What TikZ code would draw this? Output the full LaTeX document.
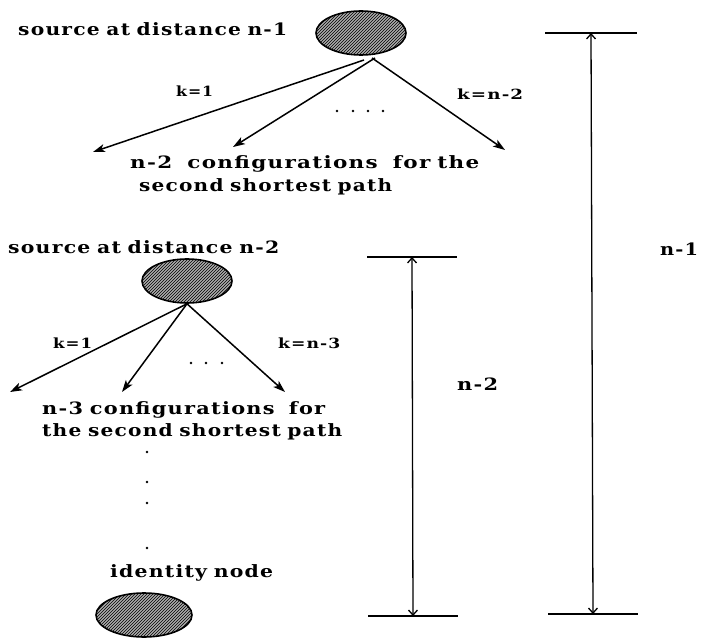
\documentclass[tikz,border=0pt]{standalone}
\usepackage{fontspec}
\setmainfont{DejaVu Serif}[LetterSpace=6,WordSpace=0.8]
\usepackage{graphicx}
\usetikzlibrary{arrows.meta,patterns,shapes.geometric}
\newcommand\fw[2]{\resizebox{#1pt}{\height}{#2}}
\begin{document}
\begin{tikzpicture}[x=1pt,y=-1pt,
  src/.style={ellipse,draw,line width=1.6pt,fill=gray!65,
    postaction={pattern=north east lines,pattern color=black},
    inner sep=0pt},
  txt/.style={anchor=base west,inner sep=0pt,font=\fontsize{17}{20}\selectfont\bfseries},
  klab/.style={anchor=base west,inner sep=0pt,font=\fontsize{14}{16}\selectfont\bfseries},
  dotc/.style={circle,fill=black,inner sep=0pt,minimum size=2.8pt},
  tree/.style={line width=1.5pt,-{Stealth[length=12pt,width=8pt,inset=3pt]}},
  bar/.style={line width=1.2pt},
  dim/.style={line width=1.3pt,{Straight Barb[length=5pt,width=9pt]}-{Straight Barb[length=5pt,width=9pt]}}]
\useasboundingbox (0,0) rectangle (701,639);
\fill[white] (0,0) rectangle (701,639);

% ---- top tree ----
\node[txt] (t1) at (18,35.5) {\fw{269}{source at distance n-1}};
\node[src,minimum width=90pt,minimum height=44pt] (s1) at (361,33) {};
\coordinate (s1a) at (364,60);
\coordinate (s1b) at (375,58);
\coordinate (s1c) at (372,58);
\coordinate (e11) at (93,152);
\coordinate (e12) at (233,147);
\coordinate (e13) at (505,150);
\draw[tree] (s1a) -- (e11);
\draw[tree] (s1b) -- (e12);
\draw[tree] (s1c) -- (e13);
\node[klab] (k11) at (176,97) {\fw{37}{k=1}};
\node[klab] (k12) at (457,100) {\fw{66}{k=n-2}};
\node[dotc] (d1a) at (337,111) {};
\node[dotc] (d1b) at (353,111) {};
\node[dotc] (d1c) at (368,111) {};
\node[dotc] (d1d) at (383,111) {};
\node[txt] (c1) at (130,169) {\fw{349}{n-2\hspace{12pt}configurations\hspace{12pt}for the}};
\node[txt] (c1b) at (139,192) {\fw{253}{second shortest path}};

% ---- second tree ----
\node[txt] (t2) at (8,253) {\fw{271}{source at distance n-2}};
\node[src,minimum width=90pt,minimum height=44pt] (s2) at (187,281) {};
\coordinate (e21) at (10,392);
\coordinate (e22) at (122,392);
\coordinate (e23) at (285,392);
\draw[tree] (s2.south) -- (e21);
\draw[tree] (s2.south) -- (e22);
\draw[tree] (s2.south) -- (e23);
\node[klab] (k21) at (53,348) {\fw{39}{k=1}};
\node[klab] (k22) at (278,348) {\fw{62}{k=n-3}};
\node[dotc] (d2a) at (191,363) {};
\node[dotc] (d2b) at (206,363) {};
\node[dotc] (d2c) at (222,363) {};
\node[txt] (c2) at (42,414) {\fw{283}{n-3 configurations\hspace{6pt} for}};
\node[txt] (c2b) at (42,436) {\fw{300}{the second shortest path}};

% ---- vertical dots ----
\node[dotc] (v1) at (147,452) {};
\node[dotc] (v2) at (147,482) {};
\node[dotc] (v3) at (147,503) {};
\node[dotc] (v4) at (147,548) {};

% ---- identity node ----
\node[txt] (idl) at (110,577.5) {\fw{163}{identity node}};
\node[src,minimum width=96pt,minimum height=44pt] (s3) at (144,615) {};

% ---- dimension n-1 ----
\coordinate (b1l) at (545,33);
\coordinate (b1r) at (637,33);
\coordinate (b2l) at (548,614);
\coordinate (b2r) at (638,614);
\coordinate (m1t) at (591,33);
\coordinate (m1b) at (593,614);
\draw[bar] (b1l) -- (b1r);
\draw[bar] (b2l) -- (b2r);
\draw[dim] (m1t) -- (m1b);
\node[txt] (n1) at (660,255) {\fw{38}{n-1}};

% ---- dimension n-2 ----
\coordinate (b3l) at (367,257);
\coordinate (b3r) at (457,257);
\coordinate (b4l) at (368,616);
\coordinate (b4r) at (458,616);
\coordinate (m2t) at (412,257);
\coordinate (m2b) at (413,616);
\draw[bar] (b3l) -- (b3r);
\draw[bar] (b4l) -- (b4r);
\draw[dim] (m2t) -- (m2b);
\node[txt] (n2) at (457,390) {\fw{41}{n-2}};
\end{tikzpicture}
\end{document}
